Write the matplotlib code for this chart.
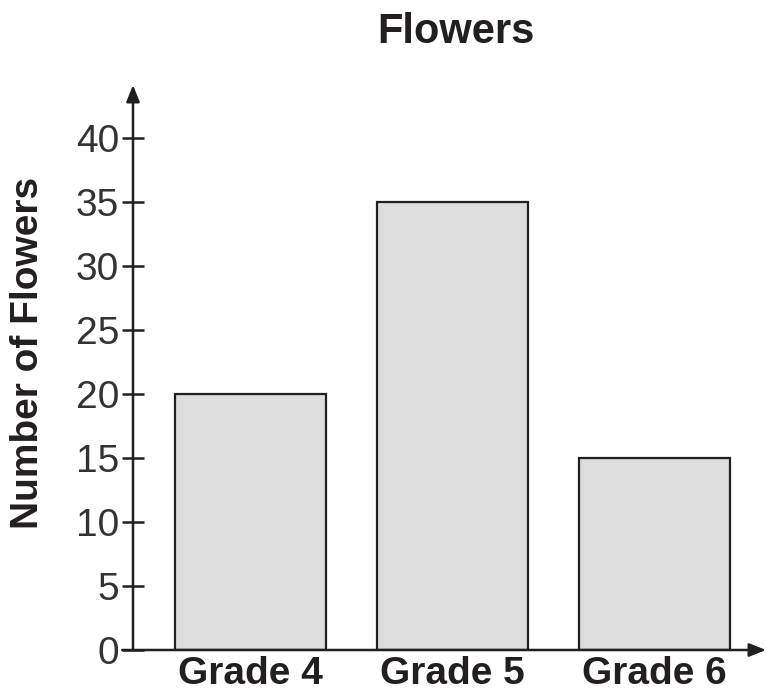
import matplotlib
matplotlib.use("Agg")
import matplotlib.pyplot as plt

categories = ["Grade 4", "Grade 5", "Grade 6"]
flowers = [20, 35, 15]
y_ticks = [0, 5, 10, 15, 20, 25, 30, 35, 40]

plt.rcParams['font.family'] = ['Liberation Sans', 'DejaVu Sans']
ink = '#231f20'

fig = plt.figure(figsize=(7.66, 6.96), dpi=100)
ax = fig.add_axes([133 / 766, 46 / 696, (766 - 133) / 766, (650 - 85) / 696])

x = list(range(len(categories)))
ax.bar(x, flowers, width=0.75, color='#dcdcdc', edgecolor=ink, linewidth=1.6, zorder=2)

ax.set_xlim(-0.582, 2.552)
ax.set_ylim(0, 44.14)

for s in ax.spines.values():
    s.set_visible(False)

# axes drawn as arrows
arrow = dict(arrowstyle='-|>,head_length=1.0,head_width=0.4', color=ink, lw=1.8,
             shrinkA=0, shrinkB=0)
ax.annotate('', xy=(1, 0), xytext=(-0.017, 0), xycoords='axes fraction',
            arrowprops=arrow, annotation_clip=False)
ax.annotate('', xy=(0, 1), xytext=(0, 0), xycoords='axes fraction',
            arrowprops=arrow, annotation_clip=False)

ax.set_yticks(y_ticks)
ax.set_yticklabels([str(v) for v in y_ticks], fontsize=28, color='#333333')
ax.tick_params(axis='y', direction='inout', length=16, width=1.8, color=ink, pad=2)
ax.set_xticks(x)
ax.set_xticklabels(categories, fontsize=28, fontweight='bold', color=ink)
ax.tick_params(axis='x', length=0, pad=4)

fig.text(28 / 766, 1 - 353 / 696, 'Number of Flowers', rotation=90, ha='center', va='center',
         fontsize=28, fontweight='bold', color=ink)
fig.text(456 / 766, 1 - 32 / 696, 'Flowers', ha='center', va='center',
         fontsize=30, fontweight='bold', color=ink)

fig.savefig('out.png', dpi=100)
